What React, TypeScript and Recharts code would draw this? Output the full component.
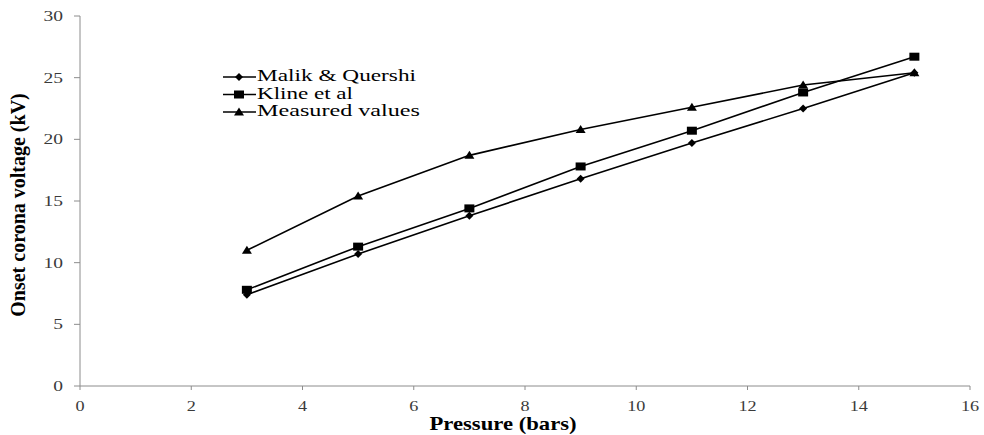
import React from 'react';
import { LineChart, Line, XAxis, YAxis } from 'recharts';

const pressure = [3, 5, 7, 9, 11, 13, 15];
const malikQuershi = [7.4, 10.7, 13.8, 16.8, 19.7, 22.5, 25.4];
const klineEtAl = [7.8, 11.3, 14.4, 17.8, 20.7, 23.8, 26.7];
const measuredValues = [11.0, 15.4, 18.7, 20.8, 22.6, 24.4, 25.4];

const xTicks = [0, 2, 4, 6, 8, 10, 12, 14, 16];
const yTicks = [0, 5, 10, 15, 20, 25, 30];

const data = pressure.map((p, i) => ({
  pressure: p,
  malik: malikQuershi[i],
  kline: klineEtAl[i],
  measured: measuredValues[i],
}));

const SERIF = 'Liberation Serif, serif';
const AXIS_GRAY = '#8c8c8c';
const TICK_COLOR = '#3a3a3a';
// the original figure is stretched sideways, so the texts are widened to match
const STRETCH = 1.3;

const Diamond = ({ cx, cy }: any) => (
  <path d={`M${cx},${cy - 4} L${cx + 4},${cy} L${cx},${cy + 4} L${cx - 4},${cy} Z`} fill="#000" />
);
const Square = ({ cx, cy }: any) => (
  <rect x={cx - 5} y={cy - 4} width={10} height={8} fill="#000" />
);
const Triangle = ({ cx, cy }: any) => (
  <path d={`M${cx},${cy - 4.5} L${cx + 5},${cy + 3.5} L${cx - 5},${cy + 3.5} Z`} fill="#000" />
);

const XTick = ({ x, payload }: any) => (
  <text
    transform={`translate(${x},411) scale(${STRETCH},1)`}
    textAnchor="middle"
    fontFamily={SERIF}
    fontSize={14}
    fill={TICK_COLOR}
  >
    {payload.value}
  </text>
);

const YTick = ({ y, payload }: any) => (
  <text
    transform={`translate(63,${y + 5}) scale(${STRETCH},1)`}
    textAnchor="end"
    fontFamily={SERIF}
    fontSize={15}
    fill={TICK_COLOR}
  >
    {payload.value}
  </text>
);

const XTitle = () => (
  <text
    transform="translate(503,430) scale(1.26,1)"
    textAnchor="middle"
    fontFamily={SERIF}
    fontWeight="bold"
    fontSize={18}
    fill="#000"
  >
    Pressure (bars)
  </text>
);

const YTitle = () => (
  <text
    transform="translate(25,205) rotate(-90)"
    textAnchor="middle"
    fontFamily={SERIF}
    fontWeight="bold"
    fontSize={20}
    fill="#000"
  >
    Onset corona voltage (kV)
  </text>
);

const legendItems = [
  { label: 'Malik & Quershi', Marker: Diamond, width: 159 },
  { label: 'Kline et al', Marker: Square, width: 96 },
  { label: 'Measured values', Marker: Triangle, width: 163 },
];

// legend drawn over the plot, where the original has it
const ChartLegend = () => (
  <svg width={260} height={70} style={{ position: 'absolute', left: 222, top: 65 }}>
    {legendItems.map((item, i) => {
      const y = 12 + i * 17.5;
      return (
        <g key={item.label}>
          <line x1={1} x2={34} y1={y} y2={y} stroke="#000" strokeWidth={1.3} />
          <item.Marker cx={17} cy={y} />
          <text
            x={35}
            y={y + 4}
            fontFamily={SERIF}
            fontSize={17}
            fill="#000"
            textLength={item.width}
            lengthAdjust="spacingAndGlyphs"
          >
            {item.label}
          </text>
        </g>
      );
    })}
  </svg>
);

export default function App() {
  return (
    <div style={{ position: 'absolute', left: 0, top: 0, background: '#fff', fontFamily: SERIF }}>
      <LineChart
        width={984}
        height={435}
        data={data}
        margin={{ top: 16, right: 14, bottom: 0, left: 0 }}
      >
        <XAxis
          dataKey="pressure"
          type="number"
          domain={[0, 16]}
          ticks={xTicks}
          height={49}
          stroke={AXIS_GRAY}
          tickSize={4}
          tick={<XTick />}
          label={<XTitle />}
        />
        <YAxis
          type="number"
          domain={[0, 30]}
          ticks={yTicks}
          width={80}
          stroke={AXIS_GRAY}
          tickSize={6}
          tick={<YTick />}
          label={<YTitle />}
        />
        <Line dataKey="malik" stroke="#000" strokeWidth={1.6} dot={<Diamond />} isAnimationActive={false} />
        <Line dataKey="kline" stroke="#000" strokeWidth={1.6} dot={<Square />} isAnimationActive={false} />
        <Line dataKey="measured" stroke="#000" strokeWidth={1.6} dot={<Triangle />} isAnimationActive={false} />
      </LineChart>
      <ChartLegend />
    </div>
  );
}
